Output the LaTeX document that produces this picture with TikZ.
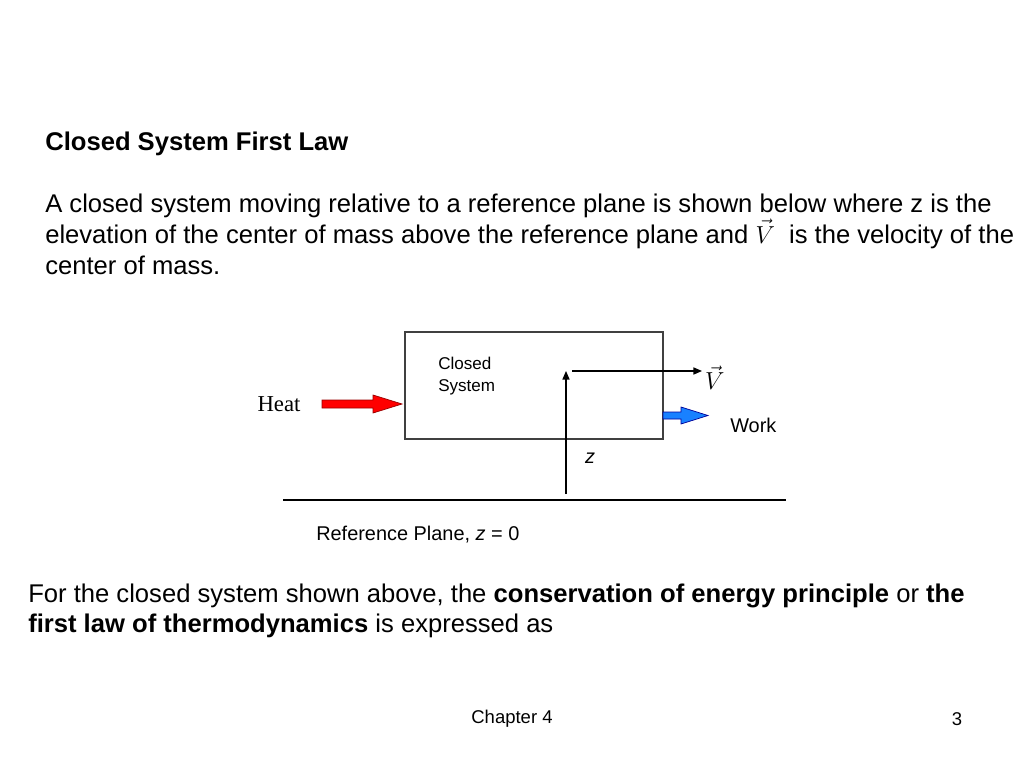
\documentclass[tikz,border=0pt]{standalone}
\usepackage{fontspec}
\setmainfont{Liberation Sans}
\newfontfamily\timesfont{Liberation Serif}
\usetikzlibrary{arrows.meta}

\tikzset{
  bodytext/.style={inner sep=0pt, font=\fontsize{18}{21.6}\selectfont},
  smalltext/.style={inner sep=0pt, font=\fontsize{14}{16}\selectfont},
  thinarrow/.style={line width=0.8pt, -{Triangle[length=6pt, width=5pt]}},
}

\begin{document}
\begin{tikzpicture}[x=0.703pt, y=-0.703pt]
\useasboundingbox (0,0) rectangle (1024,768);

% 标题
\node[bodytext, anchor=base west, font=\fontsize{18}{21.6}\selectfont\bfseries] (title) at (45,150) {Closed System First Law};

% 说明文字
\node[bodytext, anchor=base west] (intro1) at (45,212) {A closed system moving relative to a reference plane is shown below where z is the};
\node[bodytext, anchor=base west] (intro2) at (45,243) {elevation of the center of mass above the reference plane and \smash{\timesfont$\vec{V}$}\ \ is the velocity of the};
\node[bodytext, anchor=base west] (intro3) at (45,274) {center of mass.};

% 系统方框
\node[draw=black!75, line width=0.8pt, inner sep=0pt, minimum width=181.4pt, minimum height=75.2pt] (box) at (534,385.5) {};
\node[inner sep=0pt, anchor=base west, align=left, font=\fontsize{12}{14.8}\selectfont] (sys) at (438,391) {Closed\\System};

% 热量箭头
\node[inner sep=0pt, font=\timesfont\fontsize{16}{18}\selectfont] (heat) at (279,404) {Heat};
\filldraw[fill=red, draw=red!60!black, line width=0.5pt]
  (322,400) -- (373,400) -- (373,395) -- (402,404) -- (373,413) -- (373,408) -- (322,408) -- cycle;

% 功箭头
\filldraw[fill=blue!55!cyan!90!white, draw=blue!60!black, line width=0.5pt]
  (663,412) -- (681,412) -- (681,407) -- (708,415.5) -- (681,424) -- (681,419) -- (663,419) -- cycle;
\node[smalltext, anchor=base west] (work) at (730,432) {Work};

% 高度与速度
\coordinate (zbase) at (566,494);
\coordinate (cm) at (566,371);
\coordinate (vstart) at (572,371);
\node[inner sep=2pt, anchor=west, font=\fontsize{18}{20}\selectfont] (vel) at (702,378) {$\vec{V}$};
\draw[thinarrow] (zbase) -- (cm);
\draw[thinarrow] (vstart) -- (vel.west |- vstart);
\node[smalltext] (zlab) at (590,458) {\itshape z};

% 参考平面
\coordinate (refl) at (283,500);
\coordinate (refr) at (786,500);
\draw[line width=1.4pt] (refl) -- (refr);
\node[smalltext, anchor=base west] (reflab) at (316,540) {Reference Plane, \textit{z} = 0};

% 结论文字
\node[bodytext, anchor=base west] (law1) at (28,602) {For the closed system shown above, the \textbf{conservation of energy principle} or \textbf{the}};
\node[bodytext, anchor=base west] (law2) at (28,632) {\textbf{first law of thermodynamics} is expressed as};

% 页脚
\node[inner sep=0pt, font=\fontsize{13}{15}\selectfont] (chap) at (512,719) {Chapter 4};
\node[inner sep=0pt, font=\fontsize{13}{15}\selectfont] (page) at (957,719) {3};

\end{tikzpicture}
\end{document}
